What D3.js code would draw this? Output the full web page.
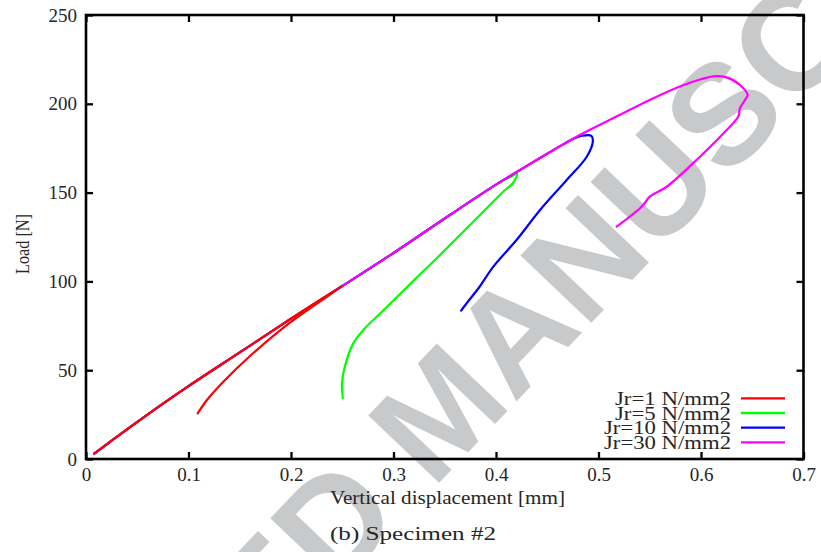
<!DOCTYPE html>
<html>
<head>
<meta charset="utf-8">
<script src="https://cdn.jsdelivr.net/npm/d3@7"></script>
<style>
  html, body { margin: 0; padding: 0; background: #fff; }
  svg { display: block; }
  text { font-family: "Liberation Serif", "Times New Roman", serif; fill: #262626; }
</style>
</head>
<body>
<svg id="chart" width="821" height="552"></svg>
<script>
// Load–displacement curves, specimen #2 (displacement in mm, load in N)
const loadingPath = [[0.008, 3], [0.03, 12.5], [0.06, 25], [0.1, 41], [0.15, 60], [0.2, 79], [0.25, 97.4]];
const upperLoading = [[0.3, 116], [0.355, 137.4], [0.4, 154.5]];

const jr1Branch = [[0.199, 76.8], [0.16, 58.0], [0.134, 43.5], [0.118, 33.2], [0.109, 25.7]];
const jr5Branch = [[0.413, 158.5], [0.4205, 160.5], [0.4166, 155.4], [0.4088, 151.5], [0.394, 143],
  [0.3746, 131.8], [0.3454, 114.9], [0.318, 99.5], [0.29, 83.6], [0.2705, 72.6], [0.2608, 65.1],
  [0.2527, 52.5], [0.2497, 42.6], [0.2505, 34.2]];
const jr10Branch = [[0.443, 169.5], [0.465, 177], [0.476, 180.5], [0.484, 182], [0.493, 182],
  [0.4945, 179], [0.4885, 170.2], [0.469, 157.1], [0.443, 140.2], [0.42, 123.3], [0.3974, 108.3],
  [0.384, 97], [0.3714, 87.7], [0.366, 83.5]];
const jr30Branch = [[0.443, 169.5], [0.485, 183.4], [0.52, 193.5], [0.55, 202.2], [0.583, 210.6],
  [0.6, 213.8], [0.612, 215.5], [0.625, 214.9], [0.638, 210.6], [0.6455, 205], [0.643, 202.2],
  [0.638, 197.5], [0.6364, 192.8], [0.622, 183.4], [0.599, 170.2], [0.5665, 153.3], [0.55, 147.7],
  [0.545, 144], [0.5405, 141.2], [0.5177, 130.8]];

const seriesLabels = ["Jr=1 N/mm2", "Jr=5 N/mm2", "Jr=10 N/mm2", "Jr=30 N/mm2"];
const seriesColors = ["#ff0000", "#00ff00", "#0000ff", "#ff00ff"];
const seriesPoints = [
  loadingPath.concat(jr1Branch),
  loadingPath.concat(upperLoading, jr5Branch),
  loadingPath.concat(upperLoading, jr10Branch),
  loadingPath.concat(upperLoading, jr30Branch)
];

const xTicks = [0, 0.1, 0.2, 0.3, 0.4, 0.5, 0.6, 0.7];
const yTicks = [0, 50, 100, 150, 200, 250];

const svg = d3.select("#chart");
const plotLeft = 86, plotRight = 803.5, plotTop = 15, plotBottom = 459;
const x = d3.scaleLinear().domain([0, 0.7]).range([plotLeft, plotRight]);
const y = d3.scaleLinear().domain([0, 250]).range([plotBottom, plotTop]);

// watermark
svg.append("text")
  .attr("transform", "translate(476,444) rotate(-46.4)")
  .attr("text-anchor", "middle")
  .style("font-family", "'Liberation Sans', Arial, sans-serif")
  .style("font-weight", "bold")
  .style("font-size", "142px")
  .style("fill", "#c8c9cb")
  .text("ACCEPTED MANUSCRIPT");

// curves (drawn so the Jr=1 curve sits on top of the shared loading path)
const line = d3.line().x(d => x(d[0])).y(d => y(d[1])).curve(d3.curveCatmullRom.alpha(0.5));
const drawOrder = [1, 2, 3, 0];
svg.append("g").selectAll("path")
  .data(drawOrder)
  .join("path")
  .attr("d", i => line(seriesPoints[i]))
  .attr("fill", "none")
  .attr("stroke", i => seriesColors[i])
  .attr("stroke-width", 2.2)
  .attr("stroke-linejoin", "round")
  .attr("stroke-linecap", "round");

// axes with inward ticks on all four sides
const fmt = d => String(+d.toFixed(1));
const tickLen = 7;
function styleAxis(g) {
  g.select(".domain").remove();
  g.selectAll(".tick line").attr("stroke", "#000").attr("stroke-width", 2.3);
  g.selectAll(".tick text").style("font-size", "19px").style("font-family", "'Liberation Serif', serif").attr("fill", "#262626");
}
svg.append("g").attr("transform", `translate(0,${plotBottom})`)
  .call(d3.axisBottom(x).tickValues(xTicks).tickFormat(fmt).tickSizeInner(-tickLen).tickSizeOuter(0).tickPadding(9))
  .call(styleAxis);
svg.append("g").attr("transform", `translate(0,${plotTop})`)
  .call(d3.axisTop(x).tickValues(xTicks).tickFormat("").tickSizeInner(-tickLen).tickSizeOuter(0))
  .call(styleAxis);
svg.append("g").attr("transform", `translate(${plotLeft},0)`)
  .call(d3.axisLeft(y).tickValues(yTicks).tickFormat(fmt).tickSizeInner(-tickLen).tickSizeOuter(0).tickPadding(9))
  .call(styleAxis);
svg.append("g").attr("transform", `translate(${plotRight},0)`)
  .call(d3.axisRight(y).tickValues(yTicks).tickFormat("").tickSizeInner(-tickLen).tickSizeOuter(0))
  .call(styleAxis);

// frame
svg.append("rect")
  .attr("x", plotLeft).attr("y", plotTop)
  .attr("width", plotRight - plotLeft).attr("height", plotBottom - plotTop)
  .attr("fill", "none").attr("stroke", "#000").attr("stroke-width", 2.6);

// axis titles and caption
svg.append("text")
  .attr("x", 330).attr("y", 504)
  .attr("textLength", 235).attr("lengthAdjust", "spacingAndGlyphs")
  .style("font-size", "19px")
  .text("Vertical displacement [mm]");
svg.append("text")
  .attr("transform", "translate(29,244) rotate(-90)")
  .attr("text-anchor", "middle")
  .attr("textLength", 60).attr("lengthAdjust", "spacingAndGlyphs")
  .style("font-size", "19px")
  .text("Load [N]");
svg.append("text")
  .attr("x", 330).attr("y", 540)
  .attr("textLength", 166).attr("lengthAdjust", "spacingAndGlyphs")
  .style("font-size", "19.5px")
  .text("(b) Specimen #2");

// legend
const legendRowY = [398.3, 413, 427.7, 442.3];
const legendTextWidth = [116, 116, 127, 127];
const legend = svg.append("g");
seriesLabels.forEach((label, i) => {
  legend.append("text")
    .attr("x", 731).attr("y", legendRowY[i] + 6.5)
    .attr("text-anchor", "end")
    .attr("textLength", legendTextWidth[i]).attr("lengthAdjust", "spacingAndGlyphs")
    .style("font-size", "19px")
    .text(label);
  legend.append("line")
    .attr("x1", 741).attr("x2", 785)
    .attr("y1", legendRowY[i]).attr("y2", legendRowY[i])
    .attr("stroke", seriesColors[i]).attr("stroke-width", 2.3);
});
</script>
</body>
</html>
